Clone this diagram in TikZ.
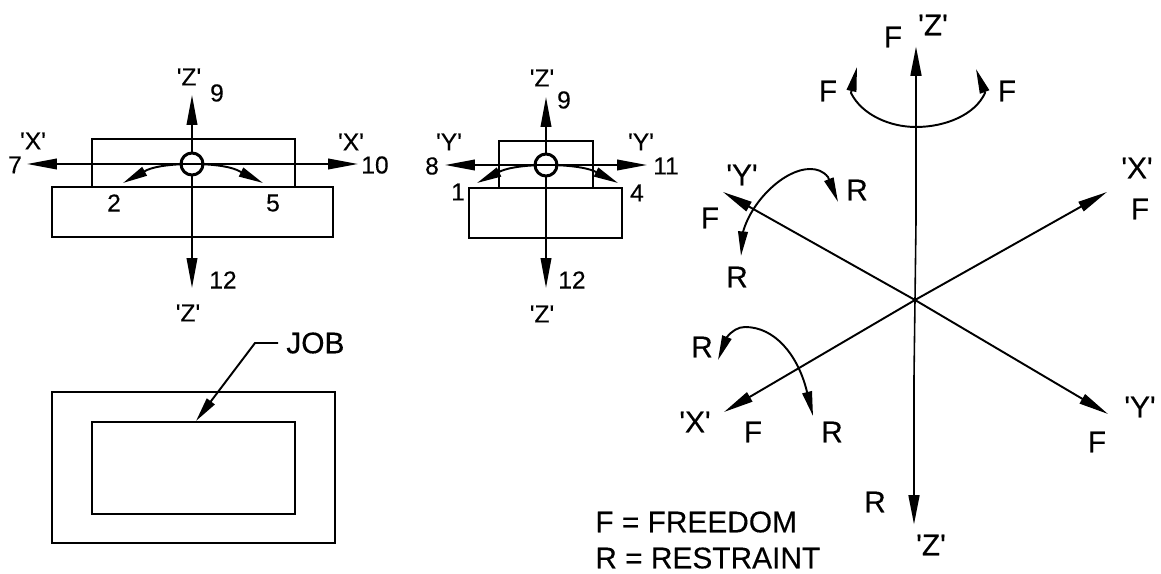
\documentclass[tikz,border=0pt]{standalone}
\usepackage{fontspec}
\setmainfont[FakeBold=0.3]{Liberation Sans}
\usetikzlibrary{arrows.meta,calc}
\newcommand{\axq}[1]{\textquotesingle#1\textquotesingle}
\tikzset{
  needle/.tip={Stealth[length=17pt,width=6pt,inset=0pt]},
  hook/.tip={Stealth[length=14pt,width=5.5pt,inset=0pt]},
  block/.style={line width=1.7pt},
  axisline/.style={line width=1.1pt,-needle},
  bigaxis/.style={line width=1.7pt,-needle},
  twist/.style={line width=1.1pt,hook-hook},
  smalltxt/.style={font=\fontsize{14}{16}\selectfont,inner sep=0pt},
  bigtxt/.style={font=\fontsize{17}{19}\selectfont,inner sep=0pt},
}
\begin{document}
\begin{tikzpicture}[x=0.02cm,y=-0.02cm]
    \useasboundingbox (0,0) rectangle (1161,574);

    % end view along Y
    \draw[block] (92,139) rectangle (295,187);
    \draw[block] (52,187) rectangle (333,237);
    \coordinate (A) at (192,164);
    \coordinate (Atop) at (192,95);
    \coordinate (Abot) at (192,288);
    \coordinate (Aleft) at (27,164);
    \coordinate (Aright) at (358,164);
    \coordinate (Atwl) at (123,183);
    \coordinate (Atwr) at (263,183);
    \draw[twist] (Atwl) -- (147,170) .. controls (165,162) and (219,162) .. (237,170) -- (Atwr);
    \draw[axisline] (A) -- (Atop);
    \draw[axisline] (A) -- (Abot);
    \draw[axisline] (A) -- (Aleft);
    \draw[axisline] (A) -- (Aright);
    \draw[block,fill=white] (A) circle (11);
    \draw[line width=1.1pt] ($(A)+(-11,0)$) -- ($(A)+(11,0)$);
    \node[smalltxt] (az) at (189,77) {\axq{Z}};
    \node[smalltxt] (a9) at (217,93) {9};
    \node[smalltxt] (axl) at (33,141) {\axq{X}};
    \node[smalltxt] (a7) at (15,165) {7};
    \node[smalltxt] (axr) at (351,142) {\axq{X}};
    \node[smalltxt] (a10) at (375,165) {10};
    \node[smalltxt] (a2) at (114,203) {2};
    \node[smalltxt] (a5) at (273,203) {5};
    \node[smalltxt] (a12) at (223,280) {12};
    \node[smalltxt] (azb) at (188,313) {\axq{Z}};

    % end view along X
    \draw[block] (499,141) rectangle (593,188);
    \draw[block] (469,188) rectangle (622,238);
    \coordinate (B) at (546,165);
    \coordinate (Btop) at (546,97);
    \coordinate (Bbot) at (546,288);
    \coordinate (Bleft) at (445,165);
    \coordinate (Bright) at (647,165);
    \coordinate (Btwl) at (477,183);
    \coordinate (Btwr) at (618,183);
    \draw[twist] (Btwl) -- (501,171) .. controls (520,163) and (574,163) .. (594,171) -- (Btwr);
    \draw[axisline] (B) -- (Btop);
    \draw[axisline] (B) -- (Bbot);
    \draw[axisline] (B) -- (Bleft);
    \draw[axisline] (B) -- (Bright);
    \draw[block,fill=white] (B) circle (11);
    \draw[line width=1.1pt] ($(B)+(-11,0)$) -- ($(B)+(11,0)$);
    \node[smalltxt] (bz) at (542,78) {\axq{Z}};
    \node[smalltxt] (b9) at (564,100) {9};
    \node[smalltxt] (byl) at (449,142) {\axq{Y}};
    \node[smalltxt] (b8) at (432,166) {8};
    \node[smalltxt] (byr) at (641,142) {\axq{Y}};
    \node[smalltxt] (b11) at (666,166) {11};
    \node[smalltxt] (b1) at (458,192) {1};
    \node[smalltxt] (b4) at (637,193) {4};
    \node[smalltxt] (b12) at (572,280) {12};
    \node[smalltxt] (bzb) at (542,314) {\axq{Z}};

    % plan view of the job
    \draw[block] (52,392) rectangle (335,543);
    \draw[block] (92,422) rectangle (295,514);
    \node[bigtxt,anchor=west] (job) at (286,343) {JOB};
    \coordinate (jobstart) at (278,343);
    \coordinate (jobknee) at (255,343);
    \coordinate (jobtip) at (196,421);
    \draw[line width=1.1pt,-hook] (jobstart) -- (jobknee) -- (jobtip);

    % the six freedoms
    \coordinate (O) at (915,300);
    \coordinate (Ztop) at (916,46);
    \coordinate (Zmid) at (916,222);
    \coordinate (Zlow) at (914,378);
    \coordinate (Zbot) at (914,525);
    \coordinate (Xup) at (1107,192);
    \coordinate (Xdn) at (724,412);
    \coordinate (Yup) at (723,192);
    \coordinate (Ydn) at (1108,414);
    \draw[line width=0.9pt] (Zmid) -- (O) -- (Zlow);
    \draw[bigaxis] (Zmid) -- (Ztop);
    \draw[bigaxis] (Zlow) -- (Zbot);
    \draw[axisline] (O) -- (Xup);
    \draw[axisline] (O) -- (Xdn);
    \draw[axisline] (O) -- (Yup);
    \draw[axisline] (O) -- (Ydn);
    \draw[twist] (857,67) -- (851,93) .. controls (862,115) and (890,127) .. (916,127)
        .. controls (945,127) and (975,115) .. (985,93) -- (976,69);
    \draw[twist] (741,256) -- (743,232) .. controls (752,200) and (785,169) .. (810,169)
        .. controls (817,169) and (823,171) .. (828,177) -- (838,202);
    \draw[twist] (718,360) -- (727,337) .. controls (732,331) and (738,327) .. (745,327)
        .. controls (775,327) and (797,355) .. (806,388) -- (813,416);
    \node[bigtxt] (fz) at (893,37) {F};
    \node[bigtxt] (zz) at (933,25) {\axq{Z}};
    \node[bigtxt] (fl) at (828,91) {F};
    \node[bigtxt] (fr) at (1007,91) {F};
    \node[bigtxt] (yy) at (742,175) {\axq{Y}};
    \node[bigtxt] (fy) at (710,218) {F};
    \node[bigtxt] (rt) at (857,190) {R};
    \node[bigtxt] (rb) at (737,277) {R};
    \node[bigtxt] (xx) at (1137,168) {\axq{X}};
    \node[bigtxt] (fx) at (1140,209) {F};
    \node[bigtxt] (xm) at (695,422) {\axq{X}};
    \node[bigtxt] (fm) at (753,432) {F};
    \node[bigtxt] (rm) at (832,432) {R};
    \node[bigtxt] (rl) at (702,347) {R};
    \node[bigtxt] (ym) at (1140,407) {\axq{Y}};
    \node[bigtxt] (fn) at (1097,442) {F};
    \node[bigtxt] (rz) at (875,502) {R};
    \node[bigtxt] (zm) at (931,545) {\axq{Z}};
    \node[bigtxt,anchor=west] (free) at (595,522) {F = FREEDOM};
    \node[bigtxt,anchor=west] (rest) at (595,558) {R = RESTRAINT};
\end{tikzpicture}
\end{document}
